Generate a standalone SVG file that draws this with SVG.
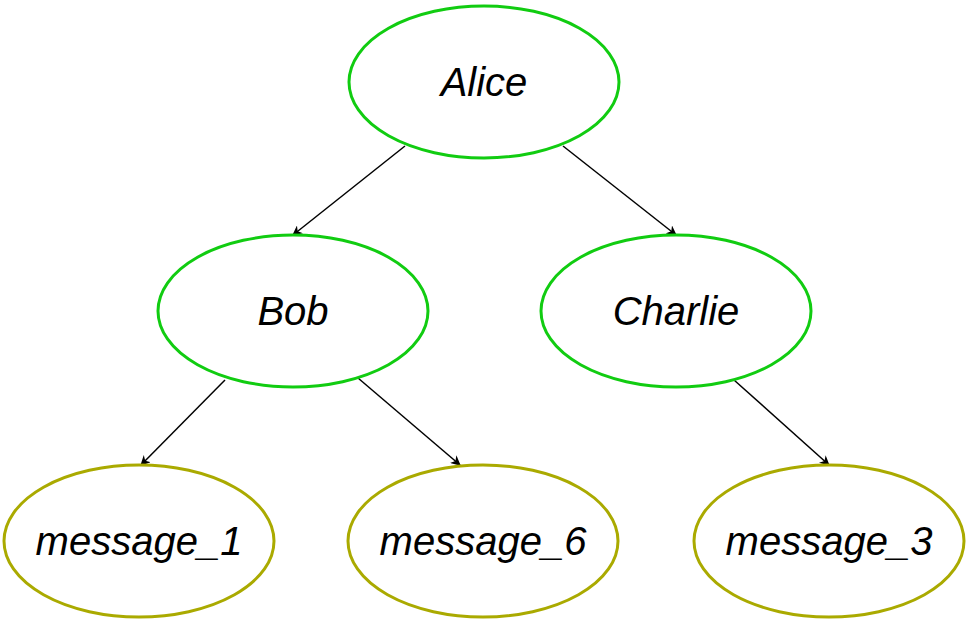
<svg xmlns="http://www.w3.org/2000/svg" width="969" height="632" viewBox="0 0 969 632">
<style>
.g{fill:#fff;stroke:#11cc11;stroke-width:3}
.o{fill:#fff;stroke:#aaaa00;stroke-width:3}
text{font-family:"Liberation Sans",Arial,sans-serif;font-style:italic;font-size:40px;text-anchor:middle;fill:#000}
.e{stroke:#000;stroke-width:1.5;fill:none;marker-end:url(#a)}
</style>
<defs><marker id="a" markerWidth="10" markerHeight="10" refX="9" refY="5" orient="auto" markerUnits="userSpaceOnUse"><path d="M0,0 L10,5 L0,10 L3,5 Z" fill="#000"/></marker></defs>
<rect width="969" height="632" fill="#fff"/>
<g id="edges">
<line class="e" x1="405" y1="146" x2="293" y2="235"/>
<line class="e" x1="563" y1="146" x2="676" y2="235"/>
<line class="e" x1="225" y1="380" x2="141" y2="465"/>
<line class="e" x1="358" y1="378" x2="460" y2="465"/>
<line class="e" x1="734" y1="380" x2="829" y2="465"/>
</g>
<g id="alice"><ellipse class="g" cx="484" cy="82" rx="135" ry="76"/><text x="484" y="96">Alice</text></g>
<g id="bob"><ellipse class="g" cx="293" cy="311" rx="135" ry="76"/><text x="293" y="325">Bob</text></g>
<g id="charlie"><ellipse class="g" cx="676" cy="311" rx="135" ry="76"/><text x="676" y="325">Charlie</text></g>
<g id="m1"><ellipse class="o" cx="139" cy="541" rx="135" ry="76"/><text x="139" y="555">message_1</text></g>
<g id="m6"><ellipse class="o" cx="483" cy="541" rx="135" ry="76"/><text x="483" y="555">message_6</text></g>
<g id="m3"><ellipse class="o" cx="829" cy="541" rx="135" ry="76"/><text x="829" y="555">message_3</text></g>
</svg>
